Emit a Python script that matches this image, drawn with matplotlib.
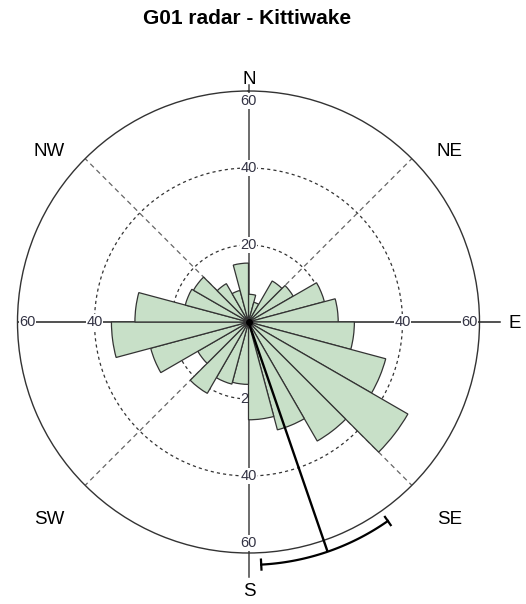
import numpy as np
import matplotlib.pyplot as plt

plt.rcParams['font.family'] = ['Liberation Sans', 'DejaVu Sans']

# rose diagram: 15 degree bins, clockwise from north
bin_start = [0, 15, 30, 45, 60, 75, 90, 105, 120, 135, 150, 165,
             180, 195, 210, 225, 240, 255, 270, 285, 300, 315, 330, 345]
counts = [7.2, 5.3, 12.3, 13.4, 20.4, 23.3, 27.5, 36.9, 47.8, 35.7, 29.0, 25.4,
          16.2, 16.7, 21.4, 15.2, 26.3, 35.6, 29.5, 17.0, 16.5, 11.5, 8.5, 15.3]
bin_width = 15
ring_ticks = [20, 40, 60]
r_max = 60

# mean direction and its confidence interval (degrees)
mean_dir = 161
ci_low, ci_high = 145, 177

W, H = 526, 604
fig = plt.figure(figsize=(W / 100, H / 100), dpi=100)

cx, cy, R = 248.5, 322, 231
ax = fig.add_axes([(cx - R) / W, (H - cy - R) / H, 2 * R / W, 2 * R / H],
                  projection='polar')
ax.set_theta_zero_location('N')
ax.set_theta_direction(-1)
ax.set_ylim(0, r_max)
ax.grid(False)
ax.set_xticks([])
ax.set_yticks([])
ax.spines['polar'].set_color('#333333')
ax.spines['polar'].set_linewidth(1.0)

full = np.linspace(0, 2 * np.pi, 400)
# dotted rings
for r in ring_ticks[:-1]:
    ax.plot(full, np.full_like(full, r), color='#333333', lw=0.9,
            ls=(0, (2.5, 2.5)), zorder=1)
# dashed diagonals
for a in [45, 135, 225, 315]:
    ax.plot([np.radians(a)] * 2, [0, r_max], color='#666666', lw=0.9,
            ls=(0, (4, 3)), zorder=1)

# main axes lines
ax.plot([0, 0], [0, 61.6], color='#444444', lw=1.1, zorder=1.5, clip_on=False)
ax.plot([np.pi, np.pi], [0, 66.3], color='#444444', lw=1.1, zorder=1.5, clip_on=False)
ax.plot([np.pi / 2] * 2, [0, 65.3], color='#222222', lw=1.1, zorder=1.5, clip_on=False)
ax.plot([1.5 * np.pi] * 2, [0, r_max], color='#222222', lw=1.1, zorder=1.5)

# tick labels along the four axes
for a in [0, 90, 180, 270]:
    for r in ring_ticks:
        rr = r if r < r_max else 57.4
        ax.text(np.radians(a), rr, str(r), ha='center', va='center',
                fontsize=10.5, color='#333344', zorder=2,
                bbox=dict(boxstyle='square,pad=0.05', fc='white', ec='none'))

ax.bar(np.radians(bin_start), counts, width=np.radians(bin_width), align='edge',
       color='#c8e0c8', edgecolor='#333333', linewidth=0.9, zorder=3)
ax.plot([0], [0], 'o', color='black', ms=4, zorder=6)

# mean direction with confidence arc
ax.plot([np.radians(mean_dir)] * 2, [0, 62.8], color='black', lw=1.7,
        zorder=5, clip_on=False)
arc = np.radians(np.linspace(ci_low, ci_high, 60))
ax.plot(arc, np.full_like(arc, 63.1), color='black', lw=1.6, zorder=5, clip_on=False)
for a in [ci_low, ci_high]:
    ax.plot([np.radians(a)] * 2, [61.8, 64.4], color='black', lw=1.6,
            zorder=5, clip_on=False)

# compass labels
labels = {'N': (249, 80), 'E': (515, 323), 'S': (249, 592),
          'NW': (49, 152), 'NE': (450, 152), 'SW': (49, 520), 'SE': (450, 520)}
for txt, (px, py) in labels.items():
    fig.text(px / W, 1 - py / H, txt, ha='center', va='center', fontsize=13.5)

fig.text(247 / W, 1 - 18 / H, 'G01 radar - Kittiwake', ha='center', va='center',
         fontsize=15, fontweight='bold')

fig.savefig('out.png', dpi=100)
